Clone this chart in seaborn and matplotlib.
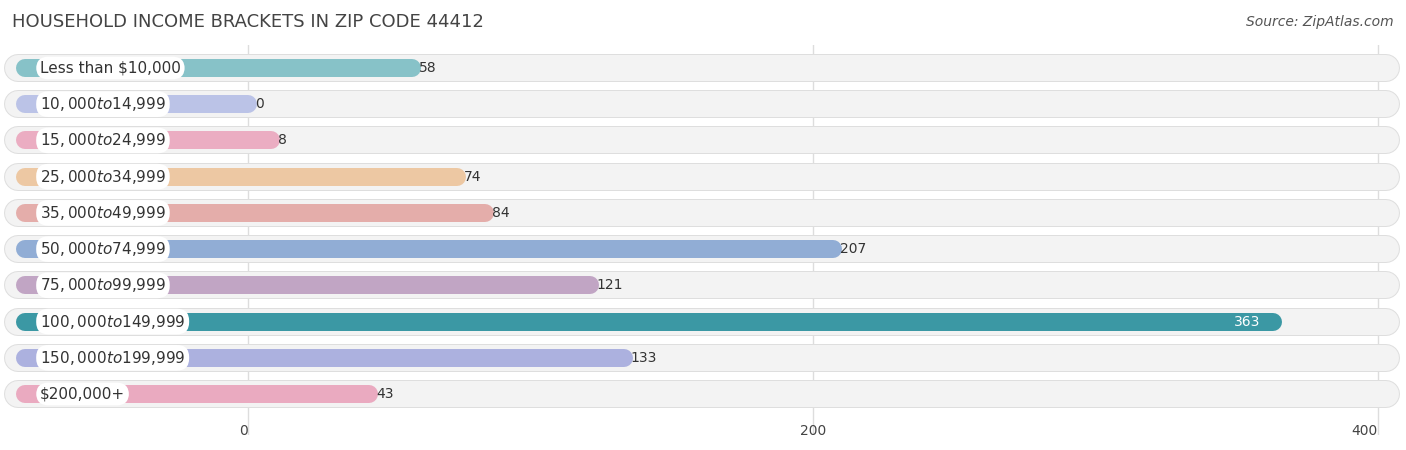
import matplotlib
matplotlib.use("Agg")
import matplotlib.pyplot as plt
import seaborn as sns
import pandas as pd

categories = ["Less than $10,000", "$10,000 to $14,999", "$15,000 to $24,999", "$25,000 to $34,999",
              "$35,000 to $49,999", "$50,000 to $74,999", "$75,000 to $99,999", "$100,000 to $149,999",
              "$150,000 to $199,999", "$200,000+"]
values = [58, 0, 8, 74, 84, 207, 121, 363, 133, 43]
colors = ["#7ccbd3", "#b4bfee", "#f5a3bf", "#f9c897", "#eea4a0", "#86abe0", "#c5a0c9", "#2aa5b5", "#a3aae8", "#f59fbd"]
ticks = [0, 200, 400]

df = pd.DataFrame({"cat": categories, "val": values})
W, H, DPI = 1406, 450, 100
fig = plt.figure(figsize=(W / DPI, H / DPI), dpi=DPI)
ax = fig.add_axes([0, (H - 435) / H, 1, 390 / H])
sns.barplot(data=df, x="val", y="cat", hue="cat", palette=colors, legend=False, ax=ax, width=0.5)

pxu = 565 / 200
x0 = -248 / pxu
ax.set_xlim(x0, x0 + W / pxu)
sp = 36.22
ax.set_ylim(9 + (435 - 394) / sp, -(68 - 45) / sp)
left = (25 - 248) / pxu
pt = 0.72

for t in ticks:
    ax.axvline(t, color="#dddddd", lw=1, zorder=0)

for i, p in enumerate(list(ax.patches)):
    y = p.get_y() + p.get_height() / 2
    v = p.get_width()
    c = p.get_facecolor()
    p.remove()
    bl, br = (18 - 248) / pxu, (1386 - 248) / pxu
    ax.plot([bl, br], [y, y], lw=28 * pt, color="#dedede", solid_capstyle="round", zorder=1)
    ax.plot([bl, br], [y, y], lw=26 * pt, color="#f3f3f3", solid_capstyle="round", zorder=1.1)
    ax.plot([left, v], [y, y], lw=18 * pt, color=c, solid_capstyle="round", zorder=2)
    ax.text((40 - 248) / pxu, y, categories[i], va="center", ha="left", fontsize=11, color="#333333",
            zorder=4, bbox=dict(boxstyle="round,pad=0.25,rounding_size=0.8", fc="white", ec="none"))
    if values[i] > 300:
        ax.text(v - 13 / pxu, y, str(values[i]), va="center", ha="right", fontsize=10, color="white", zorder=4)
    else:
        ax.text(v + 7 / pxu, y, str(values[i]), va="center", ha="left", fontsize=10, color="#333333", zorder=4)

ax.set_xticks(ticks)
ax.set_xticklabels([str(t) for t in ticks], fontsize=10, color="#444444")
for lab, ha in zip(ax.get_xticklabels(), ["right", "center", "right"]):
    lab.set_ha(ha)
ax.tick_params(axis="x", length=0, pad=-8)
ax.set_yticks([])
ax.set_xlabel("")
ax.set_ylabel("")
for s in ax.spines.values():
    s.set_visible(False)
ax.patch.set_alpha(0)

fig.text(12 / W, 1 - 22 / H, "HOUSEHOLD INCOME BRACKETS IN ZIP CODE 44412", fontsize=13, color="#444444", va="center")
fig.text(1394 / W, 1 - 22 / H, "Source: ZipAtlas.com", fontsize=10, color="#555555", style="italic", va="center", ha="right")
fig.savefig("out.png", dpi=DPI)
